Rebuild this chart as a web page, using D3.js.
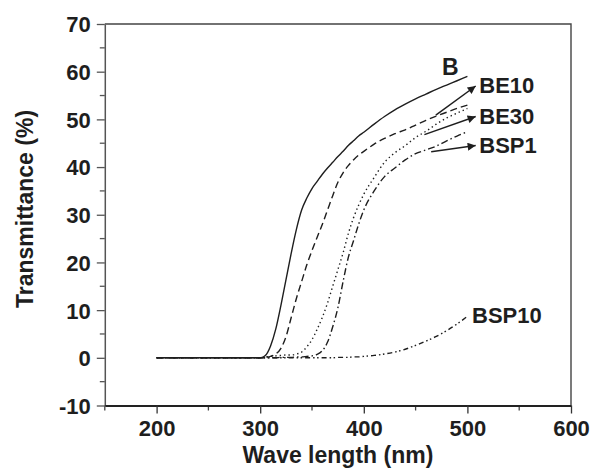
<!DOCTYPE html>
<html>
<head>
<meta charset="utf-8">
<script src="https://cdn.jsdelivr.net/npm/d3@7"></script>
<style>
    body { margin: 0; background: #fff; }
    text { font-family: "Liberation Sans", Arial, sans-serif; font-weight: bold; fill: #1e1e1e; }
</style>
</head>
<body>
<div id="chart"></div>
<script>
// wavelength grid (nm)
const wavelength = [200, 300, 305, 310, 315, 320, 325, 330, 335, 340,
    345, 350, 355, 360, 365, 370, 375, 380, 385, 390, 395, 400,
    410, 420, 430, 440, 450, 460, 470, 480, 490, 500];

// transmittance (%)
const seriesB = [0, 0, 0.5, 2.5, 6, 11, 16.5, 22, 27, 31,
    33.5, 35.5, 37, 38.5, 39.8, 41, 42.2, 43.3, 44.5, 45.5, 46.5, 47.3,
    49, 50.6, 52, 53.2, 54.3, 55.3, 56.3, 57.2, 58.1, 59];
const seriesBE10 = [0, 0, 0.1, 0.3, 0.8, 2, 4.5, 8.5, 12.5, 16,
    19.5, 22.5, 25.3, 28, 31, 34, 36.8, 38.8, 40.3, 41.5, 42.5, 43.3,
    44.8, 46, 47, 47.8, 48.8, 49.8, 50.7, 51.5, 52.3, 53];
const seriesBE30 = [0, 0, 0.2, 0.3, 0.4, 0.5, 0.6, 0.6, 0.8, 1.2,
    2.3, 3.8, 6, 8.5, 11.5, 15, 18.5, 22, 26, 29.3, 32, 34.3,
    37.8, 41, 43, 44.5, 46.2, 47.5, 49, 50.3, 51.3, 52.3];
const seriesBSP1 = [0, 0, 0, 0, 0, 0.1, 0.1, 0.1, 0.2, 0.2,
    0.3, 0.4, 0.7, 1.5, 3.3, 6.5, 10.5, 16, 21, 24.5, 28, 31,
    35, 38, 39.8, 41.5, 42.8, 43.6, 44.4, 45.5, 46.5, 47.4];
const seriesBSP10 = [0, 0, 0, 0, 0, 0, 0, 0, 0, 0,
    0, 0, 0, 0, 0, 0, 0.1, 0.1, 0.1, 0.2, 0.2, 0.3,
    0.5, 0.8, 1.2, 1.8, 2.6, 3.5, 4.5, 5.7, 7.1, 8.7];

const seriesNames = ["B", "BE10", "BE30", "BSP1", "BSP10"];
const seriesValues = [seriesB, seriesBE10, seriesBE30, seriesBSP1, seriesBSP10];
const seriesDash = [null, "7,4", "1.4,3", "7,3,1.5,3", "5,3,1.5,2.5,1.5,3"];

const xTicks = [200, 300, 400, 500, 600];
const yTicks = [-10, 0, 10, 20, 30, 40, 50, 60, 70];

// curve labels and arrows, in data units [wavelength, transmittance]
const labels = [
    {text: "B", at: [475.5, 59.3], size: 23},
    {text: "BE10", at: [511.5, 55.6], size: 22},
    {text: "BE30", at: [511.5, 49.1], size: 22},
    {text: "BSP1", at: [511.5, 43.0], size: 22},
    {text: "BSP10", at: [504.5, 7.3], size: 22}
];
const arrows = [
    {from: [469.5, 50.9], to: [508, 57.0]},
    {from: [458.5, 46.8], to: [508, 50.6]},
    {from: [465, 43.2], to: [508, 44.5]}
];

const WIDTH = 591, HEIGHT = 469;
const LEFT = 104.8, RIGHT = 571, TOP = 24, BOTTOM = 405.5;

let svg = d3.select("#chart").append("svg")
    .attr("width", WIDTH)
    .attr("height", HEIGHT);

let x = d3.scaleLinear().domain([150, 600]).range([LEFT, RIGHT]);
let y = d3.scaleLinear().domain([-10, 70]).range([BOTTOM, TOP]);

let defs = svg.append("defs");
defs.append("marker")
    .attr("id", "head")
    .attr("viewBox", "0 0 10 10")
    .attr("refX", 10)
    .attr("refY", 5)
    .attr("markerUnits", "userSpaceOnUse")
    .attr("markerWidth", 11)
    .attr("markerHeight", 8)
    .attr("orient", "auto")
    .append("path")
    .attr("d", "M0,0 L10,5 L0,10 Z")
    .attr("fill", "#1e1e1e");

// frame (top + right)
svg.append("path")
    .attr("d", `M${LEFT},${TOP} H${RIGHT} V${BOTTOM}`)
    .attr("fill", "none")
    .attr("stroke", "#444")
    .attr("stroke-width", 1.4);

// minor ticks
let yMinor = d3.range(-5, 70, 10);
svg.append("g").selectAll("line").data(yMinor).join("line")
    .attr("x1", LEFT - 5).attr("x2", LEFT)
    .attr("y1", d => y(d)).attr("y2", d => y(d))
    .attr("stroke", "#555").attr("stroke-width", 1.3);
let xMinor = d3.range(150, 600, 100);
svg.append("g").selectAll("line").data(xMinor).join("line")
    .attr("x1", d => x(d)).attr("x2", d => x(d))
    .attr("y1", BOTTOM).attr("y2", BOTTOM + 5)
    .attr("stroke", "#444").attr("stroke-width", 1.3);

// plain hyphen for negatives, like the original
let fmt = d => String(d);

// y axis
let yAxis = svg.append("g")
    .attr("transform", `translate(${LEFT},0)`)
    .call(d3.axisLeft(y).tickValues(yTicks).tickFormat(fmt).tickSize(8).tickPadding(6).tickSizeOuter(0));
yAxis.select(".domain").attr("stroke", "#555").attr("stroke-width", 1.5);
yAxis.selectAll(".tick line").attr("stroke", "#555").attr("stroke-width", 1.3);
yAxis.selectAll("text").attr("font-size", 22).attr("dy", "0.36em")
    .attr("fill", "#1e1e1e");

// x axis
let xAxis = svg.append("g")
    .attr("transform", `translate(0,${BOTTOM})`)
    .call(d3.axisBottom(x).tickValues(xTicks).tickFormat(fmt).tickSize(8).tickPadding(8).tickSizeOuter(0));
xAxis.select(".domain").attr("stroke", "#222").attr("stroke-width", 2);
xAxis.selectAll(".tick line").attr("stroke", "#333").attr("stroke-width", 1.3);
xAxis.selectAll("text").attr("font-size", 22).attr("dy", "0.66em")
    .attr("fill", "#1e1e1e");

// axis titles
svg.append("text")
    .attr("x", (LEFT + RIGHT) / 2)
    .attr("y", 463)
    .attr("text-anchor", "middle")
    .attr("font-size", 23)
    .text("Wave length (nm)");

svg.append("text")
    .attr("transform", "translate(33,209) rotate(-90)")
    .attr("text-anchor", "middle")
    .attr("font-size", 23)
    .text("Transmittance (%)");

// curves
let line = d3.line()
    .x(d => x(d[0]))
    .y(d => y(d[1]))
    .curve(d3.curveMonotoneX);

svg.append("g").selectAll("path")
    .data(seriesValues)
    .join("path")
    .attr("d", vals => line(vals.map((v, i) => [wavelength[i], v])))
    .attr("fill", "none")
    .attr("stroke", "#1e1e1e")
    .attr("stroke-width", 1.4)
    .attr("stroke-dasharray", (d, i) => seriesDash[i]);

// arrows
svg.append("g").selectAll("line")
    .data(arrows)
    .join("line")
    .attr("x1", d => x(d.from[0])).attr("y1", d => y(d.from[1]))
    .attr("x2", d => x(d.to[0])).attr("y2", d => y(d.to[1]))
    .attr("stroke", "#1e1e1e")
    .attr("stroke-width", 1.5)
    .attr("marker-end", "url(#head)");

// labels
svg.append("g").selectAll("text")
    .data(labels)
    .join("text")
    .attr("x", d => x(d.at[0]))
    .attr("y", d => y(d.at[1]))
    .attr("font-size", d => d.size)
    .text(d => d.text);
</script>
</body>
</html>
